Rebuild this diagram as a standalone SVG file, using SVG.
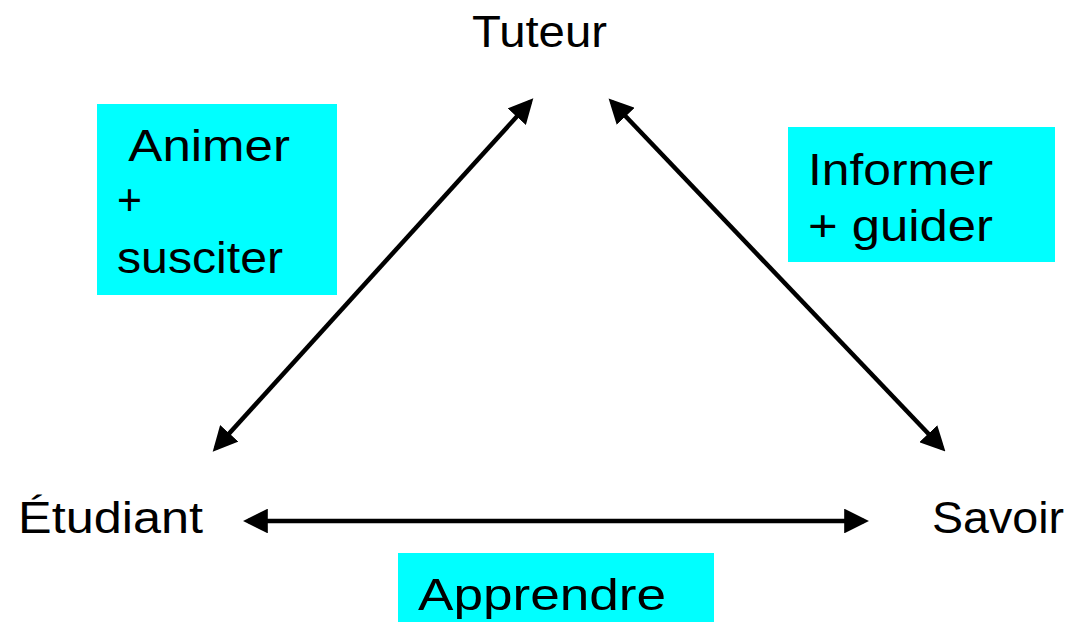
<svg xmlns="http://www.w3.org/2000/svg" width="1073" height="622" viewBox="0 0 1073 622">
<style>
.t{font-family:"Liberation Sans","DejaVu Sans",sans-serif;font-size:45px;fill:#000}
.box{fill:#00FFFF}
.c{stroke:#000;stroke-width:4.5;fill:none;marker-start:url(#ah);marker-end:url(#ah)}
</style>
<defs>
<marker id="ah" viewBox="0 0 10 10" refX="8" refY="5" markerWidth="5.5" markerHeight="5.5" orient="auto-start-reverse" markerUnits="strokeWidth">
<path d="M0,0 L10,5 L0,10 Z" fill="#000"/>
</marker>
</defs>
<rect width="1073" height="622" fill="#fff"/>
<g id="label-animer">
<rect class="box" x="97" y="104" width="240" height="191"/>
<text class="t" x="117" y="161" xml:space="preserve" textLength="173" lengthAdjust="spacingAndGlyphs"> Animer</text>
<text class="t" x="117" y="215" textLength="25" lengthAdjust="spacingAndGlyphs">+</text>
<text class="t" x="117" y="273" textLength="166" lengthAdjust="spacingAndGlyphs">susciter</text>
</g>
<g id="label-informer">
<rect class="box" x="788" y="127" width="267" height="135"/>
<text class="t" x="808" y="185" textLength="185" lengthAdjust="spacingAndGlyphs">Informer</text>
<text class="t" x="808" y="241" textLength="185" lengthAdjust="spacingAndGlyphs">+ guider</text>
</g>
<g id="label-apprendre">
<rect class="box" x="398" y="553" width="316" height="69"/>
<text class="t" x="418" y="610" textLength="248" lengthAdjust="spacingAndGlyphs">Apprendre</text>
</g>
<g id="node-tuteur"><text class="t" x="472" y="47" textLength="135" lengthAdjust="spacingAndGlyphs">Tuteur</text></g>
<g id="node-etudiant"><text class="t" x="18" y="533" textLength="185" lengthAdjust="spacingAndGlyphs">Étudiant</text></g>
<g id="node-savoir"><text class="t" x="932" y="533" textLength="132" lengthAdjust="spacingAndGlyphs">Savoir</text></g>
<g id="connectors">
<line class="c" x1="216" y1="448" x2="530" y2="102"/>
<line class="c" x1="612" y1="102" x2="942" y2="448"/>
<line class="c" x1="248" y1="521" x2="864" y2="521"/>
</g>
</svg>
